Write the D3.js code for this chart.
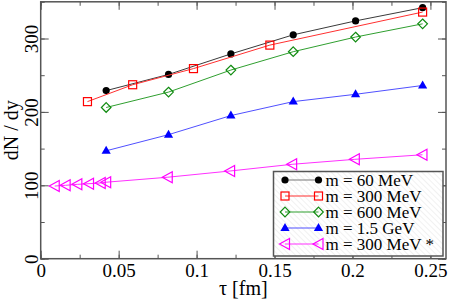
<!DOCTYPE html>
<html>
<head>
<meta charset="utf-8">
<script src="https://cdn.jsdelivr.net/npm/d3@7"></script>
<style>
body { margin: 0; background: #fff; }
svg { display: block; font-family: "Liberation Serif", "DejaVu Serif", serif; }
</style>
</head>
<body>
<div id="chart"></div>
<script>
// data
var tau_60 = [0.042, 0.082, 0.122, 0.162, 0.202, 0.245],
    dn_60 = [229, 251, 279, 305, 324, 342];
var tau_300 = [0.030, 0.059, 0.098, 0.147, 0.245],
    dn_300 = [214, 237, 259, 291, 336];
var tau_600 = [0.042, 0.082, 0.122, 0.162, 0.202, 0.245],
    dn_600 = [206, 227, 257, 282, 302, 320];
var tau_15 = [0.042, 0.082, 0.122, 0.162, 0.202, 0.245],
    dn_15 = [147, 169, 195, 214, 224, 236];
var tau_300s = [0.009, 0.016, 0.0235, 0.031, 0.0385, 0.042, 0.0815, 0.1215, 0.1613, 0.2015, 0.2449],
    dn_300s = [99, 100, 101.3, 102.2, 103.2, 104.2, 111, 119.5, 128.6, 135.4, 141.6];
var labels = ["m = 60 MeV", "m = 300 MeV", "m = 600 MeV", "m = 1.5 GeV", "m = 300 MeV *"];
var x_ticks = [0, 0.05, 0.1, 0.15, 0.2, 0.25],
    y_ticks = [0, 100, 200, 300];

// layout
var total_width = 449, total_height = 300,
    plot = {left: 40.7, right: 446, top: 1.8, bottom: 258.7};

var svg = d3.select("#chart").append("svg")
    .attr("width", total_width)
    .attr("height", total_height);

var x = d3.scaleLinear().domain([0, 0.26]).range([plot.left, plot.right]);
var y = d3.scaleLinear().domain([0, 350]).range([plot.bottom, plot.top]);

// hatch for the legend box
var defs = svg.append("defs");
var pat = defs.append("pattern")
    .attr("id", "hatch")
    .attr("patternUnits", "userSpaceOnUse")
    .attr("width", 4).attr("height", 4)
    .attr("patternTransform", "rotate(-45)");
pat.append("rect").attr("width", 4).attr("height", 4).attr("fill", "#fff");
pat.append("line").attr("x1", 0).attr("y1", 0).attr("x2", 0).attr("y2", 4)
    .attr("stroke", "#e4e4e4").attr("stroke-width", 1);

// axes: inward ticks on all sides
var axis_color = "#555";
function styleAxis(g){
    g.select(".domain").remove();
    g.selectAll("line").attr("stroke", axis_color).attr("stroke-width", 1);
}
var x_minor = d3.range(0, 0.26, 0.025);
var y_minor = d3.range(0, 351, 50);

svg.append("g").attr("transform", "translate(0," + plot.bottom + ")")
    .call(d3.axisBottom(x).tickValues(x_minor).tickSize(-4).tickFormat(""))
    .call(styleAxis);
svg.append("g").attr("transform", "translate(0," + plot.bottom + ")")
    .call(d3.axisBottom(x).tickValues(x_ticks).tickSize(-8).tickFormat(d3.format("")))
    .call(styleAxis)
    .call(g => g.selectAll("text")
        .attr("fill", "#000").attr("y", 5).attr("dy", "0.71em")
        .style("font-size", "19px").style("font-family", "Liberation Serif"));
svg.append("g").attr("transform", "translate(0," + plot.top + ")")
    .call(d3.axisTop(x).tickValues(x_minor).tickSize(-4).tickFormat(""))
    .call(styleAxis);
svg.append("g").attr("transform", "translate(0," + plot.top + ")")
    .call(d3.axisTop(x).tickValues(x_ticks).tickSize(-8).tickFormat(""))
    .call(styleAxis);

svg.append("g").attr("transform", "translate(" + plot.left + ",0)")
    .call(d3.axisLeft(y).tickValues(y_minor).tickSize(-4).tickFormat(""))
    .call(styleAxis);
var yl = svg.append("g").attr("transform", "translate(" + plot.left + ",0)")
    .call(d3.axisLeft(y).tickValues(y_ticks).tickSize(-8).tickFormat(d3.format("")))
    .call(styleAxis);
yl.selectAll(".tick text")
    .attr("fill", "#000")
    .attr("x", null).attr("dy", null)
    .attr("text-anchor", "middle")
    .attr("transform", "translate(-3,0) rotate(-90)")
    .style("font-size", "19px").style("font-family", "Liberation Serif");
svg.append("g").attr("transform", "translate(" + plot.right + ",0)")
    .call(d3.axisRight(y).tickValues(y_minor).tickSize(-4).tickFormat(""))
    .call(styleAxis);
svg.append("g").attr("transform", "translate(" + plot.right + ",0)")
    .call(d3.axisRight(y).tickValues(y_ticks).tickSize(-8).tickFormat(""))
    .call(styleAxis);

svg.append("rect")
    .attr("x", plot.left).attr("y", plot.top)
    .attr("width", plot.right - plot.left).attr("height", plot.bottom - plot.top)
    .attr("fill", "none").attr("stroke", axis_color).attr("stroke-width", 1.5);

// axis titles
svg.append("text")
    .attr("x", (plot.left + plot.right) / 2).attr("y", 295)
    .attr("text-anchor", "middle")
    .style("font-size", "20px")
    .text("τ [fm]");
svg.append("text")
    .attr("transform", "translate(18," + ((plot.top + plot.bottom) / 2) + ") rotate(-90)")
    .attr("text-anchor", "middle")
    .style("font-size", "20px")
    .text("dN / dy");

// markers
function drawMarker(g, kind, color){
    if (kind == "circle"){
        g.append("circle").attr("r", 3.6).attr("fill", color);
    } else if (kind == "square"){
        g.append("rect").attr("x", -4).attr("y", -4).attr("width", 8).attr("height", 8)
            .attr("fill", "none").attr("stroke", color).attr("stroke-width", 1.2);
    } else if (kind == "diamond"){
        g.append("path").attr("d", "M0,-4.8L4.8,0L0,4.8L-4.8,0Z")
            .attr("fill", "none").attr("stroke", color).attr("stroke-width", 1.2);
    } else if (kind == "tri_up"){
        g.append("path").attr("d", "M0,-5L4.6,3L-4.6,3Z").attr("fill", color);
    } else if (kind == "tri_left"){
        g.append("path").attr("d", "M-5.5,0L4.5,-5.5L4.5,5.5Z")
            .attr("fill", "none").attr("stroke", color).attr("stroke-width", 1.2);
    }
}

var series = [
    {tau: tau_60, dn: dn_60, line: "#3a3a3a", mark: "#000", kind: "circle"},
    {tau: tau_300, dn: dn_300, line: "#ff3030", mark: "#f00", kind: "square"},
    {tau: tau_600, dn: dn_600, line: "#2f9f2f", mark: "#108b10", kind: "diamond"},
    {tau: tau_15, dn: dn_15, line: "#5050ff", mark: "#00f", kind: "tri_up"},
    {tau: tau_300s, dn: dn_300s, line: "#ff30ff", mark: "#f0f", kind: "tri_left"}
];

var line = d3.line().x(d => x(d[0])).y(d => y(d[1]));
series.forEach(function(s){
    var pts = s.tau.map((t, i) => [t, s.dn[i]]);
    svg.append("path").datum(pts)
        .attr("d", line)
        .attr("fill", "none")
        .attr("stroke", s.line)
        .attr("stroke-width", 1);
    svg.append("g").selectAll("g")
        .data(pts).enter().append("g")
        .attr("transform", d => "translate(" + x(d[0]) + "," + y(d[1]) + ")")
        .each(function(){ drawMarker(d3.select(this), s.kind, s.mark); });
});

// legend
var lg = {x: 273.5, y: 171.5, w: 169.5, h: 84.5};
svg.append("rect")
    .attr("x", lg.x).attr("y", lg.y).attr("width", lg.w).attr("height", lg.h)
    .attr("fill", "url(#hatch)").attr("stroke", axis_color).attr("stroke-width", 1.5);
var leg_y = d3.scalePoint().domain(labels).range([180, 244]);
series.forEach(function(s, i){
    var ly = leg_y(labels[i]);
    svg.append("line").attr("x1", 285).attr("x2", 318.5).attr("y1", ly).attr("y2", ly)
        .attr("stroke", i == 0 ? "#777" : s.line).attr("stroke-width", 1.2);
    [285, 318.5].forEach(function(lx){
        var g = svg.append("g").attr("transform", "translate(" + lx + "," + ly + ")");
        drawMarker(g, s.kind, s.mark);
    });
    svg.append("text")
        .attr("x", 325.5).attr("y", ly).attr("dy", "0.33em")
        .style("font-size", "17px")
        .text(labels[i]);
});
</script>
</body>
</html>
